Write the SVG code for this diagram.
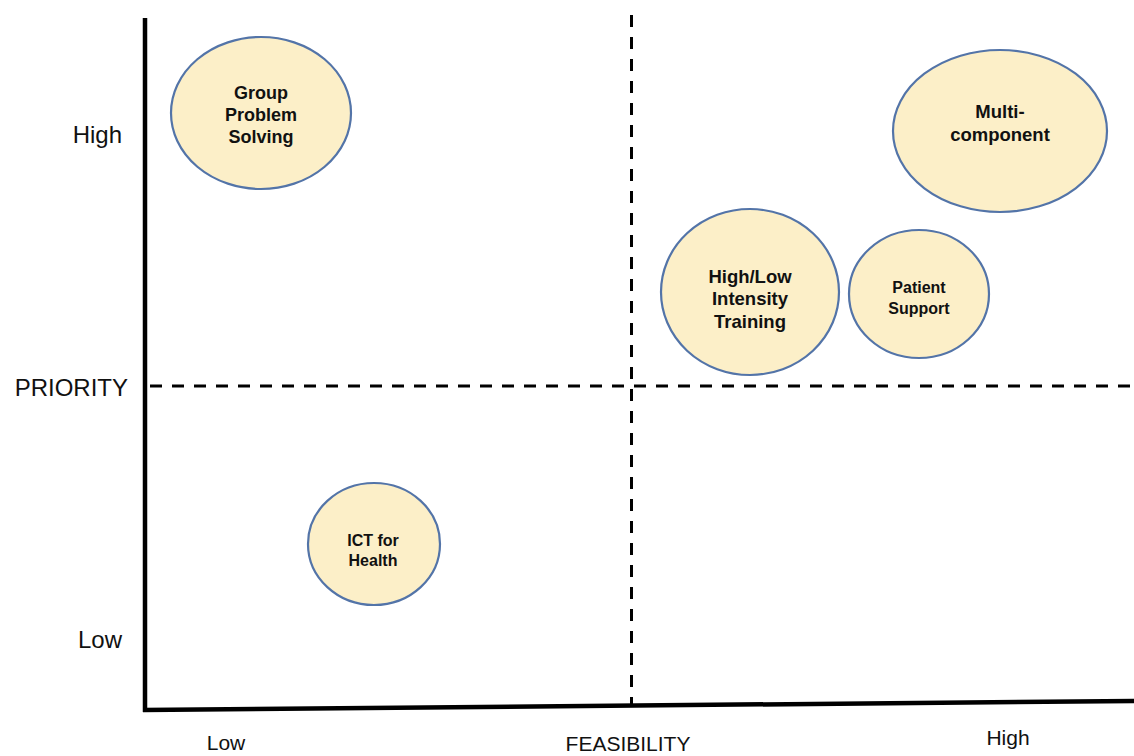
<svg xmlns="http://www.w3.org/2000/svg" width="1134" height="756" viewBox="0 0 1134 756">
  <style>
    .axis { stroke: #000; stroke-width: 4.5; fill: none; stroke-linecap: butt; }
    .divider { stroke: #000; stroke-width: 3; fill: none; stroke-dasharray: 12 10; }
    .bubble { fill: #FCEFC8; stroke: #5374A8; stroke-width: 2.2; }
    .lbl { font-family: "Liberation Sans", Arial, sans-serif; font-weight: bold; fill: #111; text-anchor: middle; }
    .tick { font-family: "Liberation Sans", Arial, sans-serif; fill: #111; }
  </style>
  <rect width="1134" height="756" fill="#fff"/>

  <!-- quadrant dividers and axes -->
  <g id="connectors">
    <line class="divider" x1="631.5" y1="15" x2="631.5" y2="705"/>
    <line class="divider" x1="150" y1="386" x2="1134" y2="386"/>
    <line class="axis" x1="145" y1="18" x2="145" y2="712"/>
    <line class="axis" x1="143" y1="710" x2="1134" y2="701"/>
  </g>

  <!-- axis labels -->
  <g id="axis-labels">
    <text class="tick" x="122" y="143" font-size="24" text-anchor="end">High</text>
    <text class="tick" x="128" y="396" font-size="24" text-anchor="end">PRIORITY</text>
    <text class="tick" x="122" y="648" font-size="24" text-anchor="end">Low</text>
    <text class="tick" x="226" y="750" font-size="21" text-anchor="middle">Low</text>
    <text class="tick" x="628" y="751" font-size="21" text-anchor="middle">FEASIBILITY</text>
    <text class="tick" x="1008" y="745" font-size="21" text-anchor="middle">High</text>
  </g>

  <g id="group-problem-solving">
    <ellipse class="bubble" cx="261" cy="113" rx="90" ry="76"/>
    <text class="lbl" font-size="18" x="261" y="99">Group</text>
    <text class="lbl" font-size="18" x="261" y="121">Problem</text>
    <text class="lbl" font-size="18" x="261" y="143">Solving</text>
  </g>

  <g id="multi-component">
    <ellipse class="bubble" cx="1000" cy="131" rx="107" ry="81"/>
    <text class="lbl" font-size="18.5" x="1000" y="118">Multi-</text>
    <text class="lbl" font-size="18.5" x="1000" y="141">component</text>
  </g>

  <g id="high-low-intensity-training">
    <ellipse class="bubble" cx="750" cy="292" rx="89" ry="83"/>
    <text class="lbl" font-size="18.5" x="750" y="283">High/Low</text>
    <text class="lbl" font-size="18.5" x="750" y="305">Intensity</text>
    <text class="lbl" font-size="18.5" x="750" y="328">Training</text>
  </g>

  <g id="patient-support">
    <ellipse class="bubble" cx="919" cy="294" rx="70" ry="64"/>
    <text class="lbl" font-size="16" x="919" y="293">Patient</text>
    <text class="lbl" font-size="16" x="919" y="314">Support</text>
  </g>

  <g id="ict-for-health">
    <ellipse class="bubble" cx="374" cy="544" rx="66" ry="61"/>
    <text class="lbl" font-size="16" x="373" y="546">ICT for</text>
    <text class="lbl" font-size="16" x="373" y="566">Health</text>
  </g>
</svg>
